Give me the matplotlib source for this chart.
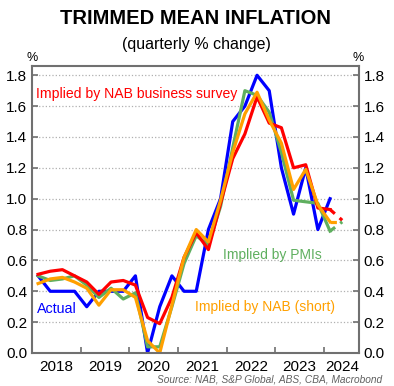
import matplotlib.pyplot as plt
import numpy as np

plt.rcParams['font.family'] = ['Liberation Sans', 'DejaVu Sans']

# quarterly, Q1 2018 .. Q1 2024
quarters = np.arange(2018.125, 2024.2, 0.25)
actual = [0.5, 0.4, 0.4, 0.4, 0.3, 0.4, 0.4, 0.4, 0.5, 0.0, 0.3, 0.5,
          0.4, 0.4, 0.8, 1.0, 1.5, 1.6, 1.8, 1.7, 1.2, 0.9, 1.2, 0.8, 1.0]
nab_survey = [0.51, 0.53, 0.54, 0.5, 0.46, 0.38, 0.46, 0.47, 0.44, 0.23, 0.19, 0.36,
              0.62, 0.78, 0.67, 0.97, 1.26, 1.42, 1.66, 1.49, 1.46, 1.2, 1.22, 0.94, 0.93]
pmis = [0.5, 0.47, 0.48, 0.5, 0.44, 0.36, 0.42, 0.35, 0.39, 0.04, 0.04, 0.3,
        0.58, 0.76, 0.7, 0.95, 1.33, 1.7, 1.67, 1.56, 1.3, 0.99, 0.98, 0.97, 0.79]
nab_short = [0.45, 0.48, 0.49, 0.46, 0.42, 0.31, 0.41, 0.41, 0.36, 0.08, 0.0, 0.31,
             0.62, 0.8, 0.72, 0.99, 1.3, 1.55, 1.69, 1.51, 1.36, 1.06, 1.19, 0.96, 0.85]

# forecast step Q1 2024 -> Q2 2024 (dashed)
fc_quarters = [2024.125, 2024.375]
nab_survey_fc = [0.93, 0.86]
pmis_fc = [0.79, 0.85]
nab_short_fc = [0.85, 0.85]

years = [2018, 2019, 2020, 2021, 2022, 2023, 2024]

c_blue = '#0000ff'
c_red = '#ff0000'
c_green = '#5faf5f'
c_orange = '#ffa000'

fig = plt.figure(figsize=(3.94, 3.86), dpi=100)
ax = fig.add_axes([32/394, 1 - 353/386, 327/394, 287/386])

ax.plot(quarters, actual, color=c_blue, lw=2.3)
ax.plot(quarters, pmis, color=c_green, lw=2.3)
ax.plot(quarters, nab_survey, color=c_red, lw=2.3)
ax.plot(quarters, nab_short, color=c_orange, lw=2.3)
ax.plot(fc_quarters, nab_survey_fc, color=c_red, lw=2.3, ls=(0, (2, 2)))
ax.plot(fc_quarters, pmis_fc, color=c_green, lw=2.3, ls=(0, (2, 2)))
ax.plot(fc_quarters, nab_short_fc, color=c_orange, lw=2.3, ls=(0, (2, 2)))

ax.set_xlim(2018, 2024.72)
ax.set_ylim(0, 1.86)
yt = np.arange(0, 1.81, 0.2)
ax.set_yticks(yt)
ax.set_yticklabels(['%.1f' % v for v in yt])
ax.grid(axis='y', color='#b0b0b0', ls=':', lw=0.9)
ax.set_axisbelow(True)

ax.set_xticks(years)
ax.set_xticklabels([])
ax.set_xticks([y + 0.5 for y in years[:-1]] + [2024.37], minor=True)
ax.set_xticklabels([str(y) for y in years], minor=True, fontsize=11)
ax.tick_params(axis='x', which='major', direction='in', length=4, color='#707070', width=1.2)
ax.tick_params(axis='x', which='minor', length=0, pad=5)
ax.tick_params(axis='y', direction='in', length=4, color='#707070', width=1.2,
               labelsize=11, right=True, labelright=True)

for s in ax.spines.values():
    s.set_color('#707070')
    s.set_linewidth(1.5)

fig.text(196/394, 1 - 19/386, 'TRIMMED MEAN INFLATION', ha='center', va='center',
         fontsize=14.5, fontweight='bold')
fig.text(196/394, 1 - 44/386, '(quarterly % change)', ha='center', va='center', fontsize=11.5)
fig.text(32/394, 1 - 58/386, '%', ha='center', va='center', fontsize=9)
fig.text(358/394, 1 - 58/386, '%', ha='center', va='center', fontsize=9)

ax.text(2018.09, 1.65, 'Implied by NAB business survey', color=c_red, fontsize=10.1)
ax.text(2018.1, 0.26, 'Actual', color=c_blue, fontsize=10.3)
ax.text(2021.93, 0.61, 'Implied by PMIs', color=c_green, fontsize=10)
ax.text(2021.34, 0.27, 'Implied by NAB (short)', color=c_orange, fontsize=10)

fig.text(382/394, 1 - 379/386, 'Source: NAB, S&P Global, ABS, CBA, Macrobond', ha='right',
         va='center', fontsize=7.3, style='italic', color='#606060')

fig.savefig('out.png', dpi=100)
